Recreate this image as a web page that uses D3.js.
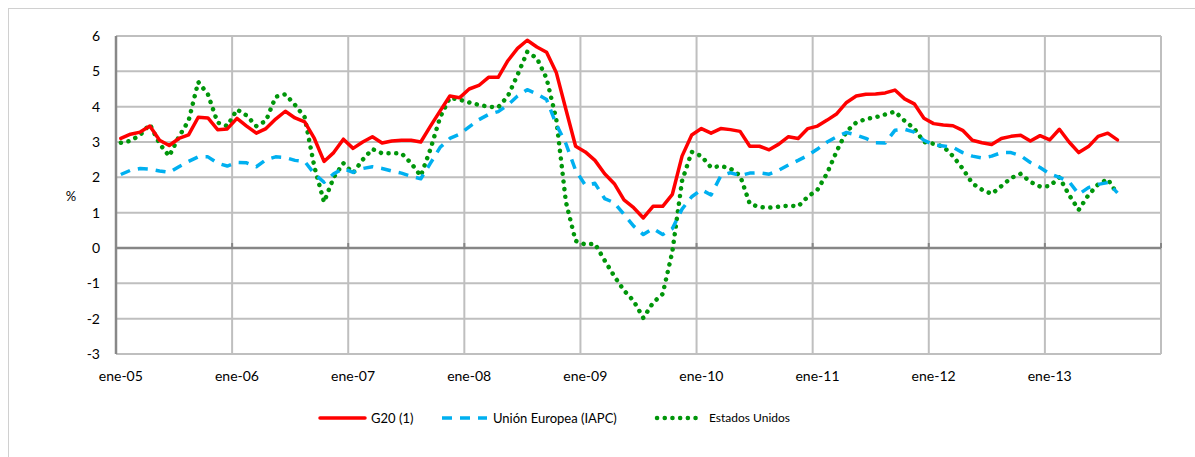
<!DOCTYPE html>
<html>
<head>
<meta charset="utf-8">
<script src="https://cdn.jsdelivr.net/npm/d3@7"></script>
<style>
  html, body { margin: 0; padding: 0; background: #fff; }
  svg { display: block; }
  text { font-family: Lato, "Liberation Sans", sans-serif; fill: #000; }
</style>
</head>
<body>
<div id="chart"></div>
<script>
// monthly, ene-05 .. ago-13
var monthNames = ["ene", "feb", "mar", "abr", "may", "jun", "jul", "ago", "sep", "oct", "nov", "dic"];
var years = ["05", "06", "07", "08", "09", "10", "11", "12", "13"];
var tickLabels = ["ene-05", "ene-06", "ene-07", "ene-08", "ene-09", "ene-10", "ene-11", "ene-12", "ene-13"];
var yTicks = [-3, -2, -1, 0, 1, 2, 3, 4, 5, 6];

var g20 = [
	3.1, 3.22, 3.28, 3.45, 3.05, 2.9, 3.1, 3.2, 3.7, 3.68, 3.35, 3.37,
	3.67, 3.45, 3.25, 3.38, 3.65, 3.87, 3.68, 3.57, 3.1, 2.45, 2.7, 3.08,
	2.82, 3.0, 3.15, 2.97, 3.03, 3.05, 3.05, 3.0, 3.45, 3.88, 4.3, 4.25,
	4.5, 4.6, 4.83, 4.83, 5.3, 5.65, 5.88, 5.69, 5.54, 4.97, 3.92, 2.88,
	2.72, 2.48, 2.1, 1.82, 1.36, 1.14, 0.85, 1.18, 1.18, 1.52, 2.6, 3.2,
	3.38, 3.25, 3.38, 3.35, 3.3, 2.88, 2.88, 2.78, 2.94, 3.15, 3.1, 3.38,
	3.45, 3.62, 3.8, 4.12, 4.3, 4.35, 4.36, 4.39, 4.47, 4.22, 4.08, 3.67,
	3.52, 3.48, 3.46, 3.33, 3.05, 2.98, 2.93, 3.1, 3.16, 3.19, 3.03, 3.18,
	3.06, 3.36, 3.0, 2.7, 2.87, 3.16, 3.25, 3.06
];
var ue = [
	2.08, 2.2, 2.25, 2.23, 2.18, 2.14, 2.3, 2.45, 2.58, 2.58, 2.4, 2.32,
	2.42, 2.41, 2.3, 2.5, 2.58, 2.56, 2.48, 2.45, 2.1, 1.86, 2.1, 2.25,
	2.14, 2.25, 2.3, 2.25, 2.18, 2.12, 2.03, 1.96, 2.4, 2.85, 3.1, 3.22,
	3.43, 3.63, 3.78, 3.86, 4.05, 4.3, 4.48, 4.36, 4.2, 3.5, 2.95, 2.2,
	1.78, 1.83, 1.4, 1.28, 0.95, 0.62, 0.38, 0.55, 0.38, 0.55, 1.1, 1.45,
	1.65, 1.5, 2.04, 2.13, 2.05, 2.12, 2.13, 2.09, 2.2, 2.35, 2.48, 2.62,
	2.8, 3.0, 3.15, 3.27, 3.2, 3.1, 2.98, 2.97, 3.33, 3.36, 3.28, 3.05,
	2.92, 2.89, 2.85, 2.7, 2.6, 2.55, 2.6, 2.7, 2.7, 2.61, 2.42, 2.28,
	2.1, 2.0, 1.88, 1.52, 1.71, 1.8, 1.85, 1.56
];
var eeuu = [
	2.98, 3.03, 3.2, 3.5, 2.95, 2.6, 3.15, 3.6, 4.7, 4.35, 3.55, 3.45,
	3.92, 3.75, 3.45, 3.6, 4.28, 4.35, 4.05, 3.7, 2.3, 1.3, 2.0, 2.4,
	2.12, 2.5, 2.8, 2.68, 2.68, 2.68, 2.4, 2.04, 2.8, 3.7, 4.25, 4.2,
	4.12, 4.05, 4.0, 3.98, 4.3, 4.9, 5.55, 5.37, 4.8, 3.65, 1.3, 0.2,
	0.1, 0.12, -0.35, -0.8, -1.2, -1.5, -1.98, -1.55, -1.3, -0.1, 1.9, 2.72,
	2.6, 2.28, 2.32, 2.25, 2.05, 1.25, 1.16, 1.14, 1.17, 1.2, 1.18, 1.45,
	1.65, 2.12, 2.75, 3.3, 3.55, 3.65, 3.7, 3.78, 3.86, 3.6, 3.38, 3.0,
	2.95, 2.87, 2.6, 2.25, 1.83, 1.65, 1.53, 1.75, 1.98, 2.1, 1.87, 1.74,
	1.75, 2.0, 1.5, 1.08, 1.5, 1.8, 1.95, 1.52
];

var categories = [];
years.forEach(function(y) {
	monthNames.forEach(function(m) { categories.push(m + "-" + y); });
});

var series = [
	{ name: "G20 (1)", values: g20, color: "#ff0000", width: 3.5, dash: null, cap: "round" },
	{ name: "Unión Europea (IAPC)", values: ue, color: "#00b0f0", width: 3.5, dash: "10,8", cap: "butt" },
	{ name: "Estados Unidos", values: eeuu, color: "#00960a", width: 4.5, dash: "0.1,7.6", cap: "round" }
];

var W = 1195, H = 457,
	plotLeft = 116, plotRight = 1161, plotTop = 36, plotBottom = 354;

var svg = d3.select("#chart").append("svg")
	.attr("width", W)
	.attr("height", H);

// chart area frame
svg.append("rect")
	.attr("x", 8.5).attr("y", 8.5)
	.attr("width", W).attr("height", H)
	.attr("fill", "#fff")
	.attr("stroke", "#d0d0d0");

var x = d3.scaleLinear().domain([0, categories.length]).range([plotLeft, plotRight]),
	y = d3.scaleLinear().domain([-3, 6]).range([plotBottom, plotTop]);

function cx(i) { return x(i + 0.5); }

var grid = svg.append("g");

// horizontal gridlines
grid.selectAll("line.h")
	.data(yTicks.filter(function(d) { return d !== 0; }))
	.enter().append("line")
	.attr("x1", plotLeft).attr("x2", plotRight)
	.attr("y1", function(d) { return y(d); })
	.attr("y2", function(d) { return y(d); })
	.attr("stroke", "#bfbfbf")
	.attr("stroke-width", 2);

// vertical gridlines every 12 months
grid.selectAll("line.v")
	.data(d3.range(0, categories.length + 1, 12))
	.enter().append("line")
	.attr("y1", plotTop).attr("y2", plotBottom)
	.attr("x1", function(d) { return x(d); })
	.attr("x2", function(d) { return x(d); })
	.attr("stroke", "#bfbfbf")
	.attr("stroke-width", 2);

// left axis line
svg.append("line")
	.attr("x1", plotLeft).attr("x2", plotLeft)
	.attr("y1", plotTop).attr("y2", plotBottom)
	.attr("stroke", "#888")
	.attr("stroke-width", 2.5);

// zero axis with small ticks
svg.append("line")
	.attr("x1", plotLeft).attr("x2", plotRight)
	.attr("y1", y(0)).attr("y2", y(0))
	.attr("stroke", "#868686")
	.attr("stroke-width", 2.5);

svg.selectAll("line.tick0")
	.data(d3.range(12, categories.length + 1, 12))
	.enter().append("line")
	.attr("x1", function(d) { return x(d); })
	.attr("x2", function(d) { return x(d); })
	.attr("y1", y(0) - 5).attr("y2", y(0))
	.attr("stroke", "#868686")
	.attr("stroke-width", 2);

// y tick labels
svg.selectAll("text.ytick")
	.data(yTicks)
	.enter().append("text")
	.attr("x", 100)
	.attr("y", function(d) { return y(d); })
	.attr("dy", "0.35em")
	.attr("text-anchor", "end")
	.style("font-size", "14px")
	.text(function(d) { return d; });

svg.append("text")
	.attr("x", 71).attr("y", 196)
	.attr("dy", "0.35em")
	.attr("text-anchor", "middle")
	.style("font-size", "13px")
	.text("%");

// x tick labels, centred on the january category
svg.selectAll("text.xtick")
	.data(tickLabels)
	.enter().append("text")
	.attr("x", function(d, i) { return cx(i * 12); })
	.attr("y", 381)
	.attr("text-anchor", "middle")
	.style("font-size", "14px")
	.text(function(d) { return d; });

// series
var line = d3.line()
	.defined(function(d) { return d != null; })
	.x(function(d, i) { return cx(i); })
	.y(function(d) { return y(d); });

series.slice().reverse().forEach(function(s) {
	svg.append("path")
		.datum(s.values)
		.attr("fill", "none")
		.attr("stroke", s.color)
		.attr("stroke-width", s.width)
		.attr("stroke-linejoin", "round")
		.attr("stroke-linecap", s.cap)
		.attr("stroke-dasharray", s.dash)
		.attr("d", line);
});

// legend
var legendX = [320, 442, 657];
var legend = svg.selectAll("g.legend")
	.data(series)
	.enter().append("g")
	.attr("transform", function(d, i) { return "translate(" + legendX[i] + ",418)"; });

legend.append("line")
	.attr("x1", 0).attr("x2", function(d, i) { return i === 2 ? 44 : 45; })
	.attr("y1", 0).attr("y2", 0)
	.attr("stroke", function(d) { return d.color; })
	.attr("stroke-width", function(d) { return d.width; })
	.attr("stroke-linecap", function(d) { return d.cap; })
	.attr("stroke-dasharray", function(d) { return d.dash; });

legend.append("text")
	.attr("x", function(d, i) { return [51, 51, 52][i]; })
	.attr("dy", "0.35em")
	.style("font-size", function(d, i) { return i === 2 ? "12px" : "13px"; })
	.text(function(d) { return d.name; });
</script>
</body>
</html>
